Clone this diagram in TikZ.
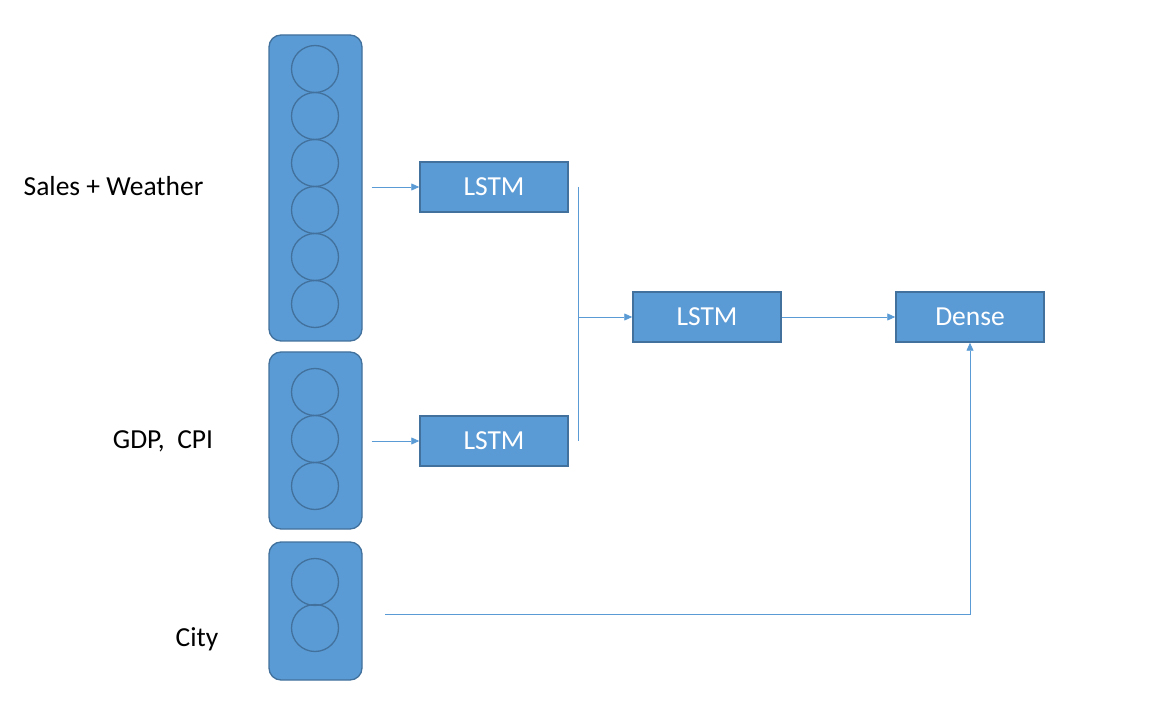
\documentclass[tikz,border=0pt]{standalone}
\usepackage{fontspec}
\setmainfont{Carlito}
\usetikzlibrary{positioning,arrows.meta,calc}
\definecolor{cellfill}{HTML}{5B9BD5}
\definecolor{celledge}{HTML}{41719C}
\definecolor{wire}{HTML}{5B9BD5}

\begin{document}
\begin{tikzpicture}[
  x=1pt, y=-1pt,
  every node/.style={font=\fontsize{27.5}{32}\selectfont},
  column/.style={
    draw=celledge, fill=cellfill, rounded corners=12pt, line width=1.3pt,
    minimum width=93pt, inner sep=0pt,
  },
  unit/.style={
    circle, draw=celledge, line width=1.3pt, minimum size=47pt, inner sep=0pt,
  },
  layer/.style={
    draw=celledge, fill=cellfill, line width=1.5pt, text=white,
    minimum width=148pt, minimum height=50pt, inner sep=0pt,
  },
  conn/.style={-{Triangle[length=8pt,width=7pt]}, line width=0.8pt, wire},
  feat/.style={anchor=center, text=black},
]
  \useasboundingbox (0,0) rectangle (1149,703);

  % Input columns
  \node[column, minimum height=306pt] (colA) at (315.5,188) {};
  \node[column, minimum height=177pt] (colB) at (315.5,440.5) {};
  \node[column, minimum height=138pt] (colC) at (315.5,611) {};

  % Units inside the columns
  \foreach \i in {1,...,6}
    \node[unit] (uA\i) at (315,{69+(\i-1)*47}) {};
  \foreach \i in {1,...,3}
    \node[unit] (uB\i) at (315,{392+(\i-1)*47}) {};
  \foreach \i in {1,2}
    \node[unit] (uC\i) at (315,{582+(\i-1)*46}) {};

  % Feature labels
  \node[feat] (fA) at (113.5,186) {Sales + Weather};
  \node[feat] (fB) at (163,441) {GDP,\ \ CPI};
  \node[feat] (fC) at (197,639) {City};

  % Layers
  \node[layer] (lstmA) at (494,187) {LSTM};
  \node[layer] (lstmB) at (494,441) {LSTM};
  \node[layer] (lstmC) at (707,317) {LSTM};
  \node[layer] (dense) at (970,317) {Dense};

  \coordinate (joinA) at ([xshift=10pt]lstmA.east);
  \coordinate (joinB) at ([xshift=10pt]lstmB.east);
  \coordinate (cityOut) at (385,614);

  \draw[conn, shorten <=9pt] (colA.east |- lstmA) -- (lstmA.west);
  \draw[conn, shorten <=9pt] (colB.east |- lstmB) -- (lstmB.west);
  \draw[wire, line width=0.8pt] (joinA) -- (joinB);
  \draw[conn] (joinA |- lstmC) -- (lstmC.west);
  \draw[conn] (lstmC) -- (dense);
  \draw[conn] (cityOut) -| (dense.south);
\end{tikzpicture}
\end{document}
